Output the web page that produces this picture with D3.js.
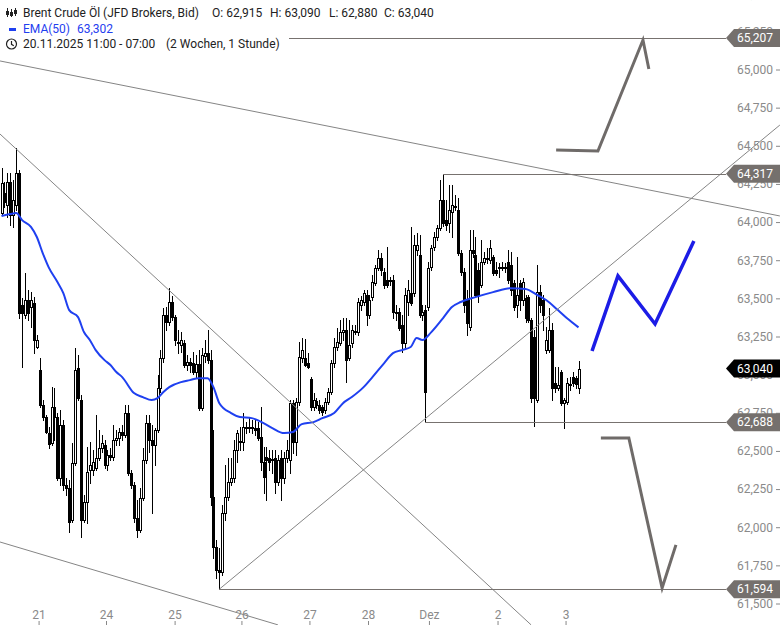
<!DOCTYPE html>
<html><head><meta charset="utf-8">
<script src="https://cdn.jsdelivr.net/npm/d3@7"></script>
<style>body{margin:0;background:#fff}svg{display:block;font-family:Roboto,"Liberation Sans",Arial,sans-serif}</style>
</head><body><svg id="c" width="780" height="625"></svg>
<script>
// ---------- DATA ----------
const opens = [64.059,64.190,64.112,64.263,64.046,64.112,64.321,63.456,63.391,63.489,
63.443,63.469,63.181,63.030,62.800,62.722,62.617,62.551,62.787,62.722,
62.322,62.669,62.276,62.256,62.046,62.420,63.043,62.833,62.046,62.164,
62.374,62.374,62.387,62.453,62.518,62.538,62.407,62.472,62.459,62.571,
62.584,62.624,62.604,62.748,62.354,62.276,62.059,61.981,62.191,62.440,
62.682,62.571,62.538,62.637,62.912,63.108,63.391,63.345,63.476,63.377,
63.213,63.194,63.207,63.063,63.082,63.076,63.017,63.069,62.781,63.122,
63.141,63.095,62.197,61.869,61.719,61.705,62.092,62.197,62.296,62.322,
62.505,62.558,62.558,62.650,62.656,62.656,62.650,62.650,62.591,62.427,
62.459,62.453,62.440,62.453,62.296,62.453,62.322,62.453,62.440,62.813,
62.558,62.820,63.108,63.108,63.076,62.971,62.787,62.827,62.800,62.787,
62.768,62.820,62.886,63.076,63.181,63.207,63.279,63.292,63.108,63.207,
63.279,63.279,63.456,63.476,63.522,63.391,63.508,63.600,63.699,63.764,
63.673,63.620,63.620,63.620,63.410,63.410,63.325,63.207,63.476,63.535,
63.535,63.817,63.784,63.391,63.423,63.443,63.705,63.836,63.902,63.961,
64.145,64.013,63.994,64.066,64.099,64.079,63.797,63.673,63.489,63.312,
63.817,63.784,63.686,63.587,63.738,63.764,63.751,63.771,63.686,63.699,
63.705,63.705,63.738,63.718,63.600,63.456,63.600,63.489,63.502,63.508,
63.358,63.246,62.833,63.541,63.489,63.161,63.161,63.292,62.945,62.912,
63.017,62.813,62.820,62.932,62.984,62.977,62.915];
const highs = [64.354,64.263,64.321,64.321,64.276,64.485,64.341,63.502,63.666,63.554,
63.541,63.508,63.259,63.108,62.833,62.735,62.656,62.918,62.912,62.748,
62.768,62.702,62.322,62.309,62.551,63.174,63.128,62.866,62.210,62.525,
62.558,62.505,62.735,62.637,62.604,62.571,62.505,62.518,62.669,62.637,
62.650,62.669,62.800,62.800,62.374,62.296,62.178,62.256,62.518,62.735,
62.735,62.669,62.650,62.997,63.161,63.436,63.443,63.567,63.515,63.391,
63.292,63.279,63.227,63.128,63.108,63.148,63.128,63.161,63.174,63.227,
63.292,63.161,62.637,61.915,61.863,62.145,62.407,62.453,62.453,62.571,
62.637,62.656,62.748,62.689,62.715,62.702,62.702,62.689,62.787,62.525,
62.525,62.505,62.505,62.505,62.472,62.505,62.492,62.571,62.833,62.833,
62.846,63.213,63.240,63.233,63.141,62.984,62.879,62.846,62.833,62.800,
62.846,62.912,63.095,63.240,63.305,63.358,63.371,63.371,63.358,63.325,
63.325,63.502,63.515,63.554,63.554,63.522,63.653,63.718,63.817,63.797,
63.699,63.836,63.640,63.653,63.456,63.436,63.391,63.567,63.620,63.968,
63.915,63.928,63.915,63.456,63.456,63.738,63.850,63.935,63.981,64.276,
64.317,64.145,64.243,64.243,64.177,64.158,63.817,63.699,63.554,63.948,
63.948,63.902,63.731,63.882,63.804,63.830,63.882,63.784,63.738,63.731,
63.738,63.731,63.817,63.804,63.620,63.771,63.620,63.633,63.522,63.522,
63.371,63.292,63.718,63.587,63.522,63.312,63.436,63.338,63.049,63.049,
63.030,62.846,62.977,62.984,63.017,62.990,63.090];
const lows = [64.046,64.099,64.033,63.981,63.968,64.079,63.371,63.049,63.371,63.358,
63.312,63.141,63.174,62.787,62.702,62.617,62.518,62.538,62.571,62.309,
62.276,62.243,62.210,61.968,62.033,62.407,62.833,61.935,62.033,62.027,
62.289,62.341,62.374,62.440,62.492,62.387,62.374,62.440,62.440,62.538,
62.538,62.571,62.591,62.341,62.256,62.033,61.935,61.968,62.178,62.420,
62.492,62.092,62.407,62.624,62.886,63.082,63.292,63.325,63.358,63.194,
63.141,63.148,63.049,63.030,63.017,63.004,62.984,62.768,62.768,63.082,
63.076,62.145,61.797,61.666,61.594,61.686,62.046,62.178,62.276,62.296,
62.427,62.505,62.505,62.617,62.624,62.617,62.604,62.571,62.374,62.223,
62.178,62.374,62.354,62.223,62.276,62.178,62.289,62.427,62.354,62.485,
62.472,62.800,63.082,63.056,63.043,62.768,62.768,62.781,62.748,62.735,
62.748,62.807,62.873,63.049,63.161,63.194,63.227,62.951,63.095,63.181,
63.266,63.259,63.423,63.456,63.325,63.371,63.489,63.587,63.686,63.653,
63.567,63.574,63.587,63.371,63.358,63.292,63.148,63.181,63.391,63.456,
63.515,63.784,63.377,63.358,62.688,63.423,63.686,63.817,63.882,63.948,
63.974,63.948,63.935,63.902,64.079,63.784,63.653,63.410,63.259,63.292,
63.771,63.508,63.476,63.574,63.725,63.731,63.731,63.653,63.653,63.640,
63.686,63.673,63.600,63.522,63.423,63.377,63.423,63.456,63.345,63.345,
62.820,62.665,62.820,63.410,63.292,63.141,63.148,62.833,62.886,62.899,
62.800,62.650,62.807,62.899,62.925,62.912,62.880];
const closes = [64.256,64.132,64.263,64.046,64.145,64.321,63.404,63.404,63.489,63.404,
63.489,63.227,63.227,62.800,62.722,62.624,62.545,62.787,62.722,62.322,
62.669,62.276,62.256,62.033,62.420,63.030,62.846,62.046,62.164,62.361,
62.407,62.427,62.453,62.518,62.551,62.407,62.472,62.459,62.571,62.584,
62.624,62.604,62.748,62.354,62.276,62.059,61.981,62.191,62.440,62.682,
62.571,62.538,62.637,62.912,63.108,63.391,63.345,63.476,63.377,63.227,
63.207,63.227,63.063,63.082,63.063,63.017,63.069,62.781,63.128,63.141,
63.095,62.197,61.869,61.719,61.705,62.092,62.197,62.296,62.322,62.505,
62.617,62.565,62.656,62.656,62.654,62.650,62.637,62.584,62.427,62.328,
62.440,62.427,62.446,62.296,62.440,62.322,62.453,62.505,62.813,62.558,
62.820,63.115,63.161,63.063,63.049,62.787,62.833,62.800,62.768,62.755,
62.820,62.886,63.076,63.181,63.213,63.279,63.292,63.095,63.194,63.292,
63.285,63.476,63.489,63.535,63.391,63.489,63.607,63.699,63.764,63.686,
63.587,63.587,63.613,63.410,63.404,63.305,63.207,63.522,63.554,63.469,
63.850,63.850,63.391,63.410,62.886,63.699,63.830,63.902,63.961,64.145,
63.994,63.981,64.079,64.112,64.105,63.797,63.673,63.456,63.338,63.817,
63.797,63.522,63.522,63.738,63.764,63.758,63.830,63.666,63.666,63.705,
63.703,63.699,63.620,63.554,63.443,63.522,63.489,63.607,63.371,63.358,
62.846,62.846,63.541,63.456,63.391,63.227,63.292,62.912,62.912,62.932,
62.813,62.833,62.945,62.940,62.945,62.938,63.040];

// EMA(50): candle index -> value
const emaIdx = [0,3,5,7,10,12,14,16,19,21,23,26,28,30,32,35,37,39,41,45,48,51,53,55,57,61,64,67,70,72,74,78,81,85,89,92,96,99,102,106,109,113,116,119,123,126,130,133,136,139,141,143,146,150,153,156,161,167,173,178,182,185,189,192,196];
const emaVal = [64.040,64.053,64.059,64.013,63.968,63.902,63.797,63.705,63.607,63.535,63.423,63.377,63.279,63.227,63.161,63.095,63.063,63.017,62.984,62.879,62.853,62.833,62.846,62.886,62.918,62.951,62.964,62.977,62.977,62.918,62.813,62.748,62.722,62.715,62.682,62.650,62.617,62.624,62.676,62.689,62.715,62.748,62.813,62.853,62.918,62.984,63.076,63.141,63.161,63.181,63.240,63.227,63.279,63.371,63.443,63.476,63.508,63.541,63.567,63.561,63.522,63.489,63.423,63.371,63.310];

const dayLabels = ["21","24","25","26","27","28","Dez","2","3"];
const dayTickIdx = [12.6,35.5,58.8,81.5,104.6,124.5,145.2,168.5,191.6];
const yTicks = [61.5,61.75,62,62.25,62.5,62.75,63,63.25,63.5,63.75,64,64.25,64.5,64.75,65,65.25,65.5];

const levelValues = [65.207,64.317,62.688,61.594];
const levelStartIdx = [-1,150,144,74];
const lastPrice = 63.040;

const trendLines = [
  [[-0.5,65.056],[264.4,64.040]],
  [[-0.5,61.903],[93.9,61.360]],
  [[-0.5,64.577],[179.9,61.360]],
  [[74,61.594],[264.4,64.636]]
];
const arrowUpGray = [[188.4,64.472],[202.6,64.466],[217.9,65.193],[219.9,65.003]];
const arrowDownGray = [[203.6,62.585],[213.1,62.585],[224.4,61.602],[229.1,61.884]];
const arrowBlue = [[200.6,63.155],[209.4,63.647],[222.0,63.332],[235.2,63.876]];

const header = {
  title: "Brent Crude Öl (JFD Brokers, Bid)",
  ohlc: [["O:","62,915"],["H:","63,090"],["L:","62,880"],["C:","63,040"]],
  ema: ["EMA(50)","63,302"],
  range: ["20.11.2025 11:00 - 07:00","(2 Wochen, 1 Stunde)"]
};

// ---------- DRAW ----------
const W = 780, H = 625;
const x = d3.scaleLinear().domain([0,196]).range([1.5,578.5]);
const y = d3.scaleLinear().domain([61.5,65]).range([603.5,69.5]);
const fmt = d3.formatLocale({decimal:",",thousands:".",grouping:[3],currency:["","€"]}).format(".3f");
const svg = d3.select("#c");
svg.append("rect").attr("width",W).attr("height",H).attr("fill","#fff");

const candles = closes.map((c,i)=>({i,o:opens[i],h:highs[i],l:lows[i],c}));
const cg = svg.append("g").attr("shape-rendering","crispEdges");
cg.selectAll("line").data(candles).join("line")
  .attr("x1",d=>Math.round(x(d.i))+0.5).attr("x2",d=>Math.round(x(d.i))+0.5)
  .attr("y1",d=>Math.round(y(d.h))).attr("y2",d=>Math.round(y(d.l))+1)
  .attr("stroke","#000").attr("stroke-width",1);
cg.selectAll("rect").data(candles).join("rect")
  .attr("x",d=>Math.round(x(d.i))-0.5).attr("width",2)
  .attr("y",d=>Math.round(y(Math.max(d.o,d.c)))+0.5)
  .attr("height",d=>Math.max(1,Math.round(y(Math.min(d.o,d.c)))-Math.round(y(Math.max(d.o,d.c)))))
  .attr("fill",d=>d.c>=d.o?"#fff":"#000").attr("stroke","#000").attr("stroke-width",1);

// EMA
svg.append("path")
  .datum(emaIdx.map((k,j)=>[k,emaVal[j]]))
  .attr("d",d3.line().x(d=>x(d[0])).y(d=>y(d[1])).curve(d3.curveMonotoneX))
  .attr("fill","none").attr("stroke","#1f40f0").attr("stroke-width",2);

// trend lines
const ln = d3.line().x(d=>x(d[0])).y(d=>y(d[1]));
svg.append("g").selectAll("path").data(trendLines).join("path")
  .attr("d",ln).attr("fill","none").attr("stroke","#858585").attr("stroke-width",1);

// level lines
const tipX = 726;
svg.append("g").attr("shape-rendering","crispEdges").selectAll("line").data(levelValues).join("line")
  .attr("x1",(v,k)=>x(levelStartIdx[k])).attr("x2",tipX)
  .attr("y1",v=>Math.round(y(v))+0.5).attr("y2",v=>Math.round(y(v))+0.5)
  .attr("stroke","#77726f").attr("stroke-width",1);

// projection arrows
svg.append("path").datum(arrowUpGray).attr("d",ln).attr("fill","none").attr("stroke","#6f6b69").attr("stroke-width",3).attr("stroke-linejoin","miter");
svg.append("path").datum(arrowDownGray).attr("d",ln).attr("fill","none").attr("stroke","#6f6b69").attr("stroke-width",3).attr("stroke-linejoin","miter");
svg.append("path").datum(arrowBlue).attr("d",ln).attr("fill","none").attr("stroke","#1c1ce6").attr("stroke-width",3.5).attr("stroke-linejoin","miter");

// y axis
const ya = svg.append("g").attr("transform",`translate(${W},0)`)
  .call(d3.axisLeft(y).tickValues(yTicks).tickFormat(fmt).tickSize(4).tickPadding(3));
ya.select(".domain").remove();
ya.selectAll("line").attr("stroke","#888");
ya.selectAll("text").attr("fill","#8a8a8a").attr("font-size",12).attr("font-family","Roboto,'Liberation Sans',sans-serif");

// x axis
const xa = svg.append("g").attr("transform",`translate(0,${H})`)
  .call(d3.axisTop(x).tickValues(dayTickIdx).tickFormat((d,k)=>dayLabels[k]).tickSize(4).tickPadding(2));
xa.select(".domain").remove();
xa.selectAll("line").attr("stroke","#888");
xa.selectAll("text").attr("fill","#8a8a8a").attr("font-size",12).attr("font-family","Roboto,'Liberation Sans',sans-serif");

// price labels
function priceTag(v, fill){
  const cy = y(v);
  const gg = svg.append("g");
  gg.append("path").attr("d",`M${tipX},${cy} L${tipX+8},${cy-9} L${W},${cy-9} L${W},${cy+9} L${tipX+8},${cy+9} Z`).attr("fill",fill);
  gg.append("text").attr("x",773).attr("y",cy).attr("dy","0.35em").attr("text-anchor","end")
    .attr("fill","#fff").attr("font-size",12).text(fmt(v));
}
levelValues.forEach(v=>priceTag(v,"#75706d"));
priceTag(lastPrice,"#000");

// header
const hg = svg.append("g").attr("font-size",12);
hg.append("rect").attr("x",0).attr("y",35).attr("width",289).attr("height",17).attr("fill","#fff");
// candle icon
const ic = hg.append("g").attr("stroke","#222").attr("stroke-width",1).attr("fill","none").attr("shape-rendering","crispEdges");
[[7.5,8,17,11,14],[11.5,9,17,12,15],[15.5,8,16,10,13]].forEach(a=>{
  ic.append("line").attr("x1",a[0]).attr("x2",a[0]).attr("y1",a[1]).attr("y2",a[2]);
  ic.append("rect").attr("x",a[0]-1).attr("y",a[3]).attr("width",2).attr("height",a[4]-a[3]).attr("fill","#222");
});
hg.append("text").attr("x",23).attr("y",17).attr("fill","#222").text(header.title);
const ox = [212,270,329,384];
header.ohlc.forEach((p,k)=>hg.append("text").attr("x",ox[k]).attr("y",17).attr("fill","#222").text(p[0]+" "+p[1]));
hg.append("rect").attr("x",9).attr("y",28).attr("width",7).attr("height",3).attr("fill","#1f40f0");
hg.append("text").attr("x",23).attr("y",33).attr("fill","#1f40f0").text(header.ema[0]);
hg.append("text").attr("x",77).attr("y",33).attr("fill","#1f40f0").text(header.ema[1]);
// clock
hg.append("circle").attr("cx",11.5).attr("cy",44).attr("r",5).attr("fill","none").attr("stroke","#222").attr("stroke-width",1.2);
hg.append("path").attr("d","M11.5,41 L11.5,44.3 L13.8,45.8").attr("fill","none").attr("stroke","#222").attr("stroke-width",1.2);
hg.append("text").attr("x",23).attr("y",48).attr("fill","#222").text(header.range[0]);
hg.append("text").attr("x",166).attr("y",48).attr("fill","#222").text(header.range[1]);
</script></body></html>
